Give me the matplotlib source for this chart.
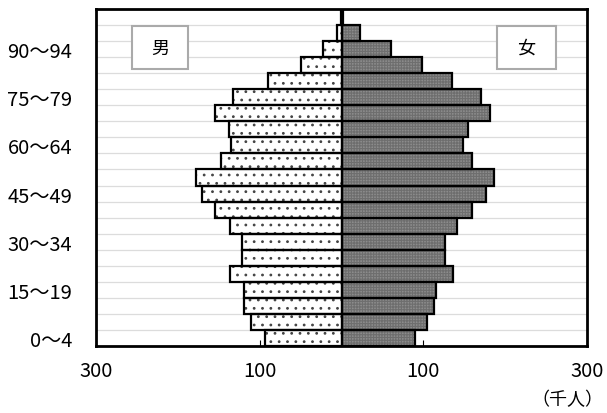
import numpy as np
import matplotlib.pyplot as plt
from matplotlib.patches import Rectangle

plt.rcParams['font.family'] = ['Noto Sans CJK JP', 'DejaVu Sans']
plt.rcParams['hatch.linewidth'] = 0.8

# 年齢階級（0〜4 から 100〜 まで、5歳刻み）、単位：千人
male = [94, 110, 119, 119, 136, 121, 121, 136, 155, 170, 178,
        147, 135, 138, 154, 133, 90, 50, 22, 6, 1]
female = [90, 105, 113, 115, 136, 126, 126, 141, 160, 177, 186,
          160, 149, 154, 181, 171, 135, 98, 60, 22, 2]
age_labels = ['0〜4', '15〜19', '30〜34', '45〜49', '60〜64', '75〜79', '90〜94']
age_label_pos = [0, 3, 6, 9, 12, 15, 18]
x_ticks = [-300, -100, 100, 300]
x_tick_labels = ['300', '100', '100', '300']

y = np.arange(len(male))
male = np.array(male)
female = np.array(female)

fig = plt.figure(figsize=(6.07, 4.14), dpi=100)
ax = fig.add_axes([96 / 607, 67 / 414, 491 / 607, 337 / 414])

# 区切りの横線
for b in y[:-1] + 0.5:
    ax.axhline(b, color='#dcdcdc', lw=0.9, zorder=0)

# 男：白地に点の網
ax.barh(y, -male, height=1.0, color='white', edgecolor='#444444',
        hatch='..', lw=0, zorder=2)
ax.barh(y, -male, height=1.0, fill=False, edgecolor='black', lw=1.6, zorder=3)
# 女：灰色の細かい網
ax.barh(y, female, height=1.0, color='#8c8c8c', edgecolor='#6e6e6e',
        hatch='++++++', lw=0, zorder=2)
ax.barh(y, female, height=1.0, fill=False, edgecolor='black', lw=1.6, zorder=3)

ax.set_xlim(-300, 300)
ax.set_ylim(-0.5, len(male) - 0.5)
ax.set_xticks(x_ticks)
ax.set_xticklabels(x_tick_labels, fontsize=14.5)
ax.set_yticks(age_label_pos)
ax.set_yticklabels(age_labels, fontsize=14.5)
ax.tick_params(axis='x', direction='in', length=4, width=0.8, pad=10)
ax.tick_params(axis='y', length=0, pad=17)
for s in ax.spines.values():
    s.set_linewidth(2)

# 男・女の見出し枠
for x0, x1, txt in [(0.073, 0.188, '男'), (0.817, 0.936, '女')]:
    ax.add_patch(Rectangle((x0, 0.822), x1 - x0, 0.127, transform=ax.transAxes,
                           facecolor='white', edgecolor='#aaaaaa', lw=1.5, zorder=4))
    ax.text((x0 + x1) / 2, 0.885, txt, transform=ax.transAxes, ha='center',
            va='center', fontsize=13, zorder=5)

fig.text(567 / 607, 1 - 400 / 414, '（千人）', ha='center', va='center', fontsize=13)

fig.savefig('out.png', dpi=100)
